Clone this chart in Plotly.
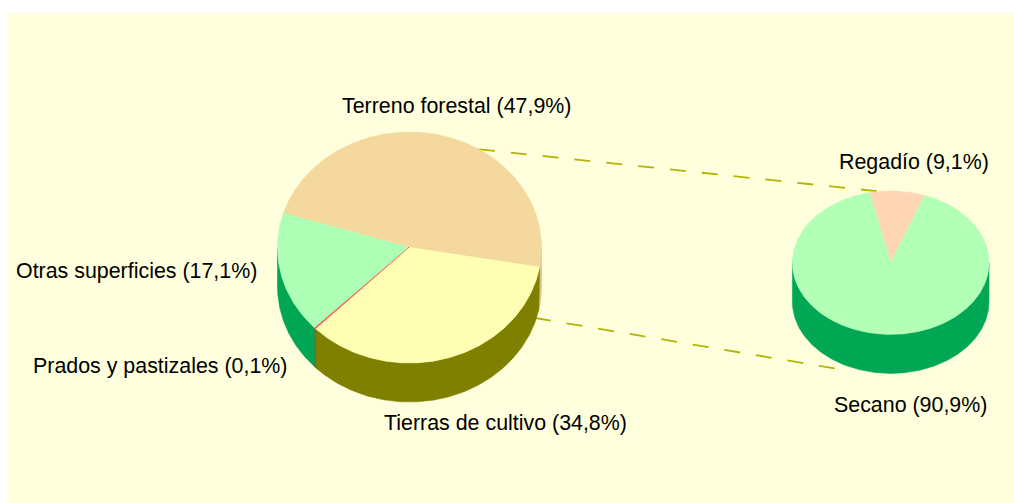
import numpy as np
import plotly.graph_objects as go

# ---------------- data ----------------
left_labels = ["Terreno forestal", "Otras superficies", "Prados y pastizales", "Tierras de cultivo"]
left_values = [47.9, 17.1, 0.1, 34.8]
right_labels = ["Regadío", "Secano"]
right_values = [9.1, 90.9]

# ---------------- styles ----------------
left_top_colors = ["#F4D89E", "#AEFFB6", "#FF5050", "#FFFFB4"]
left_side_colors = ["#DCC189", "#00A651", "#B83A3A", "#808000"]
right_top_colors = ["#FFD6B5", "#B2FFB6"]
right_side_colors = ["#C9A583", "#00A855"]

BG = "#FFFFDD"
FONT = "Liberation Sans, Arial, sans-serif"


def fmt(label, v):
    return f"{label} ({v:.1f}%)".replace(".", ",")


def ellipse_pts(cx, cy, rx, ry, a0, a1, dy=0.0):
    n = max(2, int(abs(a1 - a0) * 2) + 2)
    t = np.radians(np.linspace(a0, a1, n))
    return cx + rx * np.cos(t), cy - ry * np.sin(t) + dy


def pie3d(fig, labels, values, tops, sides, cx, cy, rx, ry, depth, start):
    total = float(sum(values))
    bounds = [start]
    for v in values:
        bounds.append(bounds[-1] + 360.0 * v / total)
    # sides (front half only: angles 180..360 mod 360)
    for i, lab in enumerate(labels):
        a0, a1 = bounds[i], bounds[i + 1]
        for k in (-1, 0, 1, 2):
            f0, f1 = 180 + 360 * k, 360 + 360 * k
            s0, s1 = max(a0, f0), min(a1, f1)
            if s1 > s0:
                xt, yt = ellipse_pts(cx, cy, rx, ry, s0, s1)
                xb, yb = ellipse_pts(cx, cy, rx, ry, s1, s0, depth)
                xs = np.concatenate([xt, xb, xt[:1]])
                ys = np.concatenate([yt, yb, yt[:1]])
                fig.add_trace(go.Scatter(
                    x=xs, y=ys, mode="lines", fill="toself",
                    fillcolor=sides[i], line=dict(color=sides[i], width=1 if values[i] < 1 else 0.6),
                    hoverinfo="text", hoveron="fills", text=fmt(lab, values[i]), showlegend=False))
    # tops
    for i, lab in enumerate(labels):
        a0, a1 = bounds[i], bounds[i + 1]
        xt, yt = ellipse_pts(cx, cy, rx, ry, a0, a1)
        xs = np.concatenate([[cx], xt, [cx]])
        ys = np.concatenate([[cy], yt, [cy]])
        fig.add_trace(go.Scatter(
            x=xs, y=ys, mode="lines", fill="toself",
            fillcolor=tops[i], line=dict(color=tops[i], width=1.6 if values[i] < 1 else 0.6),
            hoverinfo="text", hoveron="fills", text=fmt(lab, values[i]), showlegend=False))


fig = go.Figure()

pie3d(fig, left_labels, left_values, left_top_colors, left_side_colors,
      cx=409.5, cy=247.5, rx=132, ry=115.5, depth=39, start=-9.8)
pie3d(fig, right_labels, right_values, right_top_colors, right_side_colors,
      cx=890.7, cy=262.7, rx=98.3, ry=71.7, depth=39, start=69.8)

shapes = [
    dict(type="rect", xref="x", yref="y", x0=8, x1=1014, y0=13, y1=503,
         fillcolor=BG, line=dict(width=0), layer="below"),
    dict(type="line", xref="x", yref="y", x0=479, y0=149.3, x1=881.7, y1=191.7,
         line=dict(color="#B4B400", width=1.8, dash="16px,16px"), layer="below"),
    dict(type="line", xref="x", yref="y", x0=535, y0=318, x1=848.3, y1=370.7,
         line=dict(color="#B4B400", width=1.8, dash="16px,16px"), layer="below"),
]

label_pos_left = [(456.5, 106), (136.5, 270.5), (160, 365.5), (505, 422.5)]
label_pos_right = [(913.7, 162), (910.5, 404.5)]
annotations = []
for (x, y), lab, v in zip(label_pos_left + label_pos_right,
                          left_labels + right_labels, left_values + right_values):
    annotations.append(dict(x=x, y=y, xref="x", yref="y", text=fmt(lab, v), showarrow=False,
                            xanchor="center", yanchor="middle",
                            font=dict(family=FONT, size=21.4, color="#000000")))

W, H = 1014, 503
fig.update_layout(
    width=W, height=H,
    margin=dict(l=0, r=0, t=0, b=0),
    paper_bgcolor="#FFFFFF", plot_bgcolor="#FFFFFF",
    xaxis=dict(range=[0, W], visible=False, fixedrange=True),
    yaxis=dict(range=[H, 0], visible=False, fixedrange=True),
    shapes=shapes, annotations=annotations, showlegend=False,
    hovermode="closest",
)

fig.write_html(
    "out.html",
    config={"displayModeBar": False},
    post_script="document.body.style.margin='0';document.body.style.overflow='hidden';",
)
